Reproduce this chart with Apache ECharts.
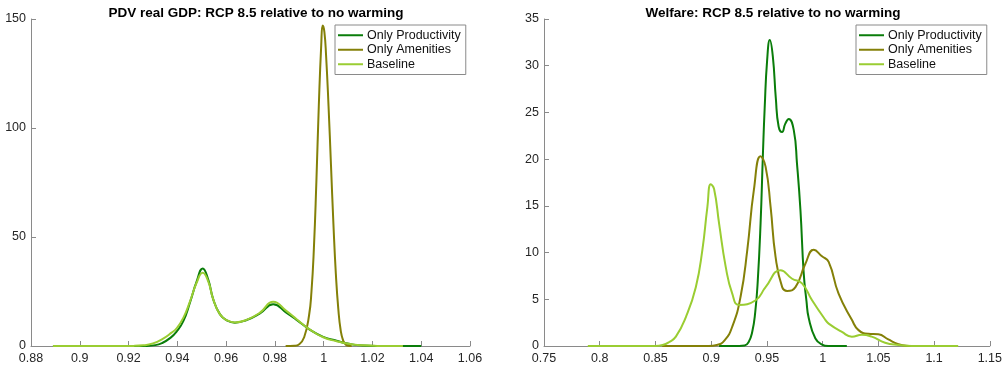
<!DOCTYPE html>
<html><head><meta charset="utf-8">
<script src="https://cdn.jsdelivr.net/npm/echarts@6/dist/echarts.min.js"></script>
<style>html,body{margin:0;padding:0;background:#fff}#c{width:1005px;height:369px}</style>
</head><body><div id="c"></div>
<script>
const seriesNames = ['Only Productivity', 'Only Amenities', 'Baseline'];
const titles = ['PDV real GDP: RCP 8.5 relative to no warming', 'Welfare: RCP 8.5 relative to no warming'];
const xTicksLeft = [0.88, 1.06, 0.02];
const yTicksLeft = [0, 150, 50];
const xTicksRight = [0.75, 1.15, 0.05];
const yTicksRight = [0, 35, 5];

// Left panel: PDV real GDP  [x, density]
const prodLeft = [[0.889,0],[0.92,0],[0.927,0.05],[0.931,0.4],[0.934,1.5],[0.937,3.6],[0.9397,6.6],[0.9425,11.5],[0.9452,20],[0.9479,29.5],[0.9504,35.6],[0.9527,30.3],[0.9547,21.5],[0.9575,14.5],[0.9605,11.6],[0.9636,10.7],[0.9684,11.9],[0.9739,15.0],[0.9793,19.1],[0.9848,15.2],[0.9889,12.0],[0.9944,7.4],[0.9998,4.2],[1.0053,2.4],[1.0108,0.9],[1.016,0.2],[1.022,0.02],[1.030,0],[1.040,0]];
const amenLeft = [[0.9844,0],[0.988,0.1],[0.990,0.8],[0.992,4],[0.994,14],[0.995,25],[0.996,45],[0.997,75],[0.998,110],[0.999,138],[0.9996,147],[1.0003,144],[1.001,133],[1.002,110],[1.003,83],[1.004,56],[1.005,33],[1.006,17],[1.007,7],[1.008,2.5],[1.009,0.7],[1.010,0.1],[1.0115,0]];
const baseLeft = [[0.889,0],[0.915,0],[0.922,0.05],[0.926,0.3],[0.930,1.2],[0.934,3.3],[0.9375,6],[0.9397,8.1],[0.9425,13],[0.9452,20.5],[0.9479,29],[0.9504,33.6],[0.9527,29.5],[0.9547,21.5],[0.9575,14.5],[0.9605,11.7],[0.9636,10.8],[0.9684,12.0],[0.9739,15.3],[0.9793,20.3],[0.9848,16.0],[0.9889,12.3],[0.9944,7.5],[0.9998,4.0],[1.0053,2.2],[1.0108,0.9],[1.016,0.3],[1.022,0.05],[1.027,0],[1.0325,0]];

// Right panel: Welfare
const prodRight = [[0.907,0],[0.925,0],[0.930,0.05],[0.9335,0.4],[0.9368,1.5],[0.9395,3.6],[0.9418,7.0],[0.9443,13.1],[0.9464,20.5],[0.9480,25.5],[0.9502,30.6],[0.9526,32.75],[0.9553,31.0],[0.9580,26.5],[0.9605,23.5],[0.9636,22.9],[0.9665,23.8],[0.9696,24.3],[0.9741,23.1],[0.9770,19.5],[0.9801,14.5],[0.983,7.8],[0.9855,4.8],[0.9875,3.0],[0.9935,0.8],[0.9994,0.15],[1.005,0],[1.0217,0]];
const amenRight = [[0.856,0],[0.898,0],[0.905,0.1],[0.912,0.6],[0.919,2.1],[0.9264,5.3],[0.9324,10.3],[0.9383,16.7],[0.9443,20.3],[0.9488,19.2],[0.9533,14.9],[0.9577,9.6],[0.9637,6.3],[0.9681,5.9],[0.9756,6.3],[0.9845,8.8],[0.992,10.3],[0.9994,9.6],[1.0054,9.0],[1.0143,5.6],[1.0262,2.8],[1.0322,1.7],[1.041,1.3],[1.05,1.25],[1.0589,0.7],[1.0679,0.2],[1.075,0.02],[1.08,0]];
const baseRight = [[0.7893,0],[0.85,0],[0.8564,0.1],[0.862,0.4],[0.8683,1.0],[0.8773,3.1],[0.8862,6.3],[0.8921,10.3],[0.8966,14.9],[0.8996,17.3],[0.9026,16.8],[0.9071,13.1],[0.913,8.5],[0.9189,5.6],[0.9249,4.4],[0.9399,4.9],[0.9488,6.3],[0.9622,8.1],[0.9726,7.2],[0.9815,6.7],[0.9905,4.9],[1.0024,2.8],[1.0054,2.4],[1.0173,1.5],[1.0262,1.0],[1.0352,1.2],[1.044,1.0],[1.056,0.35],[1.068,0.1],[1.08,0],[1.1216,0]];

const colors = ['#0a7d0a', '#848008', '#9acd32'];
const FONT = 'Liberation Sans, Arial, Helvetica, sans-serif';
const fmt = v => String(+v.toFixed(2));

function xAxis(idx, t) {
  return {
    type: 'value', gridIndex: idx, min: t[0], max: t[1], interval: t[2],
    axisLine: { lineStyle: { color: '#8a8a8a', width: 1 } },
    axisTick: { inside: true, length: 5, lineStyle: { color: '#8a8a8a' } },
    axisLabel: { color: '#262626', fontFamily: FONT, fontSize: 12.5, margin: 6, formatter: fmt, showMinLabel: true, showMaxLabel: true },
    splitLine: { show: false }
  };
}
function yAxis(idx, t) {
  return {
    type: 'value', gridIndex: idx, min: t[0], max: t[1], interval: t[2],
    axisLine: { show: true, lineStyle: { color: '#8a8a8a', width: 1 } },
    axisTick: { show: true, inside: true, length: 5, lineStyle: { color: '#8a8a8a' } },
    axisLabel: { color: '#262626', fontFamily: FONT, fontSize: 12.5, margin: 5 },
    splitLine: { show: false }
  };
}
function line(name, data, idx, ci) {
  return {
    type: 'line', name: name, data: data, xAxisIndex: idx, yAxisIndex: idx,
    showSymbol: false, smooth: 0.5,
    lineStyle: { width: 2, color: colors[ci] }, itemStyle: { color: colors[ci] },
    animation: false
  };
}
function legend(left) {
  return {
    left: left, top: 25, orient: 'vertical', data: seriesNames,
    icon: 'rect', itemWidth: 25, itemHeight: 2, itemGap: 0,
    padding: [3, 5, 3, 3], borderColor: '#8a8a8a', borderWidth: 1, backgroundColor: '#fff',
    textStyle: { fontFamily: FONT, fontSize: 12.5, color: '#111', lineHeight: 14.5, padding: [0, 0, 0, -1] }
  };
}

const chart = echarts.init(document.getElementById('c'), null, { renderer: 'canvas' });
chart.setOption({
  animation: false,
  title: [
    { text: titles[0], left: 251, top: 1, textAlign: 'center', textStyle: { fontFamily: FONT, fontSize: 13.5, fontWeight: 'bold', color: '#000' } },
    { text: titles[1], left: 768, top: 1, textAlign: 'center', textStyle: { fontFamily: FONT, fontSize: 13.5, fontWeight: 'bold', color: '#000' } }
  ],
  grid: [
    { left: 31, right: 535, top: 19, bottom: 23 },
    { left: 544, right: 13, top: 19, bottom: 23 }
  ],
  xAxis: [xAxis(0, xTicksLeft), xAxis(1, xTicksRight)],
  yAxis: [yAxis(0, yTicksLeft), yAxis(1, yTicksRight)],
  legend: [legend(335), legend(856)],
  series: [
    line(seriesNames[0], prodLeft, 0, 0),
    line(seriesNames[1], amenLeft, 0, 1),
    line(seriesNames[2], baseLeft, 0, 2),
    line(seriesNames[0], prodRight, 1, 0),
    line(seriesNames[1], amenRight, 1, 1),
    line(seriesNames[2], baseRight, 1, 2)
  ]
});
</script></body></html>
